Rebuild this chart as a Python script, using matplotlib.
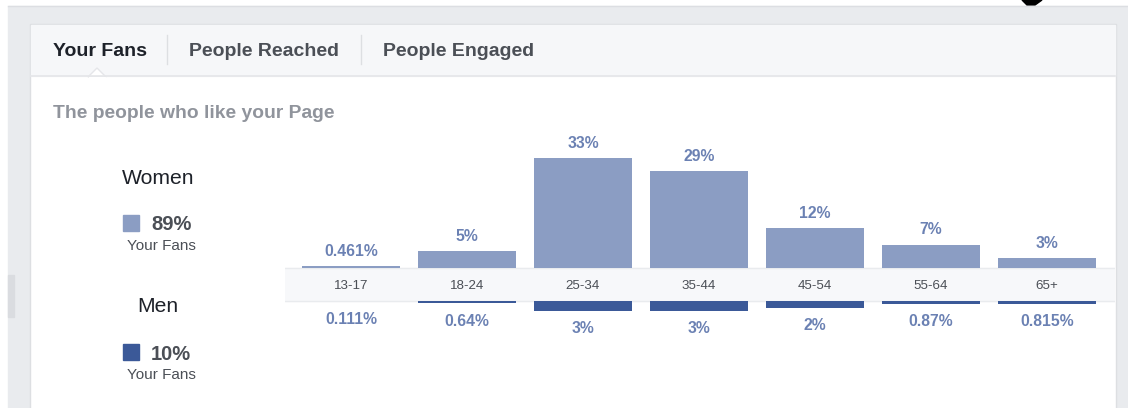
import matplotlib
matplotlib.use("Agg")
from matplotlib import pyplot as plt
from matplotlib.patches import Rectangle, Polygon

plt.rcParams["font.family"] = ["Liberation Sans", "DejaVu Sans"]

# data
age_groups = ["13-17", "18-24", "25-34", "35-44", "45-54", "55-64", "65+"]
women_pct = [0.461, 5, 33, 29, 12, 7, 3]
men_pct = [0.111, 0.64, 3, 3, 2, 0.87, 0.815]
women_labels = ["0.461%", "5%", "33%", "29%", "12%", "7%", "3%"]
men_labels = ["0.111%", "0.64%", "3%", "3%", "2%", "0.87%", "0.815%"]
tabs = ["Your Fans", "People Reached", "People Engaged"]
women_total = "89%"
men_total = "10%"

WOMEN_COLOR = "#8b9dc3"
MEN_COLOR = "#3b5998"
LABEL_COLOR = "#6b81b3"
W, H = 1128, 408


def draw_page(bg):
    # page background / card / header
    bg.add_patch(Rectangle((0, 0), W, H, color="white"))
    bg.add_patch(Rectangle((8, 6), W - 8, H - 6, color="#e9ebee"))
    bg.plot([8, W], [6, 6], color="#dcdee2", lw=1)
    bg.add_patch(Rectangle((8, 275), 6, 42, color="#dadce0"))
    bg.add_patch(Polygon([(1022, 0), (1042, 0), (1035, 5), (1027, 5)], color="black"))
    bg.add_patch(Rectangle((30, 24), 1086, H, facecolor="white", edgecolor="#dddfe2", lw=1))
    bg.add_patch(Rectangle((31, 25), 1084, 51, color="#f6f7f9"))
    bg.plot([31, 1115], [76, 76], color="#e5e6e9", lw=1.2)
    # little notch under the active tab
    bg.add_patch(Polygon([(88, 77), (97, 68), (106, 77)], facecolor="white",
                         edgecolor="#e5e6e9", lw=1))
    bg.add_patch(Rectangle((89, 76.5), 16, 2, color="white"))

    tab_x = [53, 189, 383]
    for i, t in enumerate(tabs):
        bg.text(tab_x[i], 51, t, fontsize=14, fontweight="bold",
                color="#1d2129" if i == 0 else "#4b4f56", va="center", ha="left")
    for sx in [167, 361]:
        bg.plot([sx, sx], [35, 64], color="#dddfe2", lw=1)

    bg.text(53, 113, "The people who like your Page", fontsize=13.9,
            fontweight="bold", color="#90949c", va="center", ha="left")

    # gender summary on the left
    for name, total, color, y0 in [("Women", women_total, WOMEN_COLOR, 178),
                                   ("Men", men_total, MEN_COLOR, 307)]:
        bg.text(158, y0, name, fontsize=15.2, color="#1d2129", ha="center", va="center")
        bg.add_patch(Rectangle((123, y0 + 37), 16, 16, color=color))
        bg.text(151, y0 + 47, total, fontsize=14.5, fontweight="bold",
                color="#4b4f56", ha="left", va="center")
        bg.text(161, y0 + 68, "Your Fans", fontsize=11, color="#4b4f56",
                ha="center", va="center")


def draw_chart(ax):
    px = 3.33  # pixels per percent
    band = 33 / px
    x = range(len(age_groups))

    ax.axhspan(-band, 0, color="#f7f8fa", zorder=0)
    ax.axhline(0, color="#e9ebee", lw=1, zorder=1)
    ax.axhline(-band, color="#e9ebee", lw=1, zorder=1)

    ax.bar(x, women_pct, width=0.844, bottom=0, color=WOMEN_COLOR, zorder=2)
    ax.bar(x, [-v for v in men_pct], width=0.844, bottom=-band, color=MEN_COLOR, zorder=2)

    for i in x:
        ax.text(i, -band / 2 - 0.5, age_groups[i], fontsize=9.6, color="#4b4f56",
                ha="center", va="center")
        ax.annotate(women_labels[i], (i, women_pct[i]), xytext=(0, 15),
                    textcoords="offset pixels", ha="center", va="center",
                    fontsize=11.3, fontweight="bold", color=LABEL_COLOR)
        ax.annotate(men_labels[i], (i, -band - men_pct[i]), xytext=(0, -18),
                    textcoords="offset pixels", ha="center", va="center",
                    fontsize=11.3, fontweight="bold", color=LABEL_COLOR)

    ax.set_xlim(-0.568, 6.585)
    top, bottom = 120, 340
    ax.set_ylim(-(bottom - 268) / px, (268 - top) / px)
    ax.axis("off")


def main():
    fig = plt.figure(figsize=(W / 100, H / 100), dpi=100)
    bg = fig.add_axes([0, 0, 1, 1])
    bg.set_xlim(0, W)
    bg.set_ylim(H, 0)
    bg.axis("off")
    draw_page(bg)

    ax = fig.add_axes([285 / W, 1 - 340 / H, (1115 - 285) / W, 220 / H])
    ax.patch.set_alpha(0)
    draw_chart(ax)

    fig.savefig("out.png", dpi=100)


if __name__ == "__main__":
    main()
